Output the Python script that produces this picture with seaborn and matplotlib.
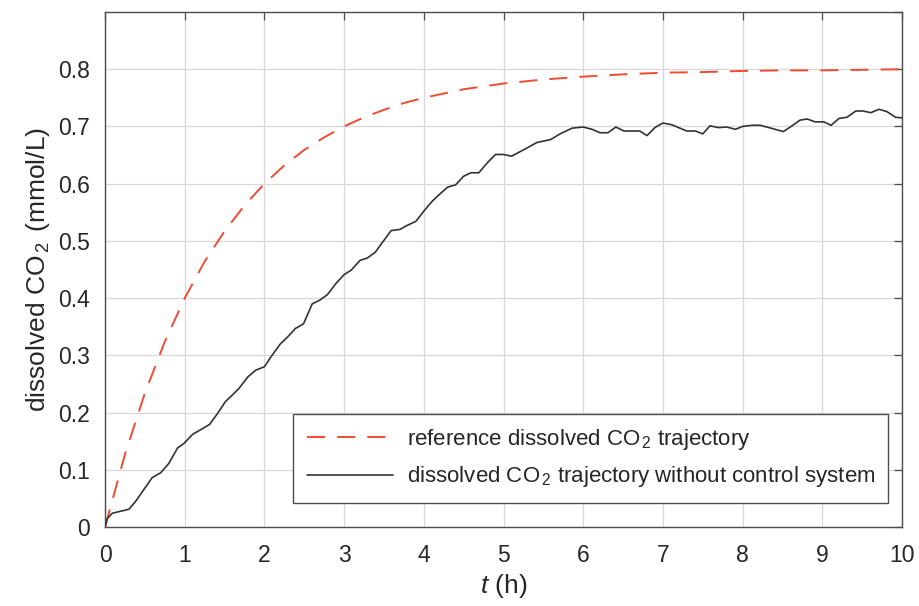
import matplotlib
matplotlib.use("Agg")
import matplotlib.pyplot as plt
import seaborn as sns
import pandas as pd

# reference trajectory
ref_t = [0, 0.25, 0.5, 0.75, 1, 1.25, 1.5, 1.75, 2, 2.25, 2.5, 2.75, 3, 3.25, 3.5, 3.75,
         4, 4.5, 5, 5.5, 6, 6.5, 7, 7.5, 8, 8.5, 9, 9.5, 10]
ref_v = [0, 0.127, 0.234, 0.324, 0.400, 0.464, 0.517, 0.562, 0.600, 0.632, 0.659, 0.681,
         0.700, 0.716, 0.729, 0.741, 0.750, 0.765, 0.775, 0.782, 0.787, 0.791, 0.794,
         0.795, 0.797, 0.798, 0.798, 0.799, 0.800]

# trajectory without control
raw_t = [0, 0.03, 0.09, 0.30, 0.38, 0.59, 0.70, 0.80, 0.91, 0.99, 1.10, 1.20, 1.31, 1.41,
         1.51, 1.60, 1.68, 1.79, 1.89, 2.00, 2.08, 2.20, 2.29, 2.39, 2.49, 2.60, 2.69,
         2.79, 2.90, 3.00, 3.09, 3.20, 3.29, 3.39, 3.50, 3.59, 3.70, 3.79, 3.90, 4.00,
         4.11, 4.21, 4.30, 4.40, 4.50, 4.59, 4.69, 4.80, 4.90, 5.00, 5.10, 5.25, 5.42,
         5.59, 5.71, 5.86, 6.00, 6.11, 6.21, 6.31, 6.41, 6.51, 6.71, 6.80, 6.90, 7.00,
         7.11, 7.30, 7.41, 7.50, 7.59, 7.70, 7.80, 7.91, 8.00, 8.12, 8.22, 8.33, 8.51,
         8.62, 8.72, 8.81, 8.91, 9.02, 9.11, 9.21, 9.31, 9.42, 9.51, 9.61, 9.71, 9.81,
         9.92, 10.0]
raw_v = [0, 0.015, 0.024, 0.031, 0.044, 0.086, 0.095, 0.111, 0.138, 0.146, 0.162, 0.170,
         0.179, 0.198, 0.219, 0.231, 0.242, 0.262, 0.274, 0.280, 0.297, 0.320, 0.332,
         0.347, 0.355, 0.390, 0.396, 0.406, 0.426, 0.441, 0.449, 0.466, 0.470, 0.480,
         0.501, 0.518, 0.520, 0.527, 0.534, 0.552, 0.570, 0.583, 0.594, 0.598, 0.613,
         0.619, 0.619, 0.637, 0.651, 0.651, 0.648, 0.659, 0.672, 0.677, 0.687, 0.697,
         0.699, 0.695, 0.689, 0.689, 0.699, 0.692, 0.692, 0.684, 0.698, 0.706, 0.703,
         0.692, 0.692, 0.687, 0.701, 0.698, 0.699, 0.695, 0.700, 0.702, 0.702, 0.698,
         0.691, 0.701, 0.711, 0.713, 0.708, 0.708, 0.702, 0.714, 0.716, 0.727, 0.727,
         0.724, 0.730, 0.726, 0.716, 0.715]

x_ticks = [0, 1, 2, 3, 4, 5, 6, 7, 8, 9, 10]
y_ticks = [0, 0.1, 0.2, 0.3, 0.4, 0.5, 0.6, 0.7, 0.8, 0.9]
y_ticklabels = ["0", "0.1", "0.2", "0.3", "0.4", "0.5", "0.6", "0.7", "0.8", ""]

sns.set_theme(style="white")
plt.rcParams["font.family"] = ["Liberation Sans", "DejaVu Sans"]
plt.rcParams["mathtext.fontset"] = "custom"
plt.rcParams["mathtext.rm"] = "Liberation Sans"
plt.rcParams["mathtext.it"] = "Liberation Sans:italic"
plt.rcParams["mathtext.default"] = "regular"

txt = "#262626"
fig = plt.figure(figsize=(9.19, 6.06), dpi=100)
ax = fig.add_axes([0.1143, 0.1304, 0.8672, 0.8498])

df_ref = pd.DataFrame({"t": ref_t, "v": ref_v})
df_raw = pd.DataFrame({"t": raw_t, "v": raw_v})

sns.lineplot(data=df_ref, x="t", y="v", ax=ax, color="#F04B32", lw=1.4,
             label="reference dissolved CO$_{\\,2}$ trajectory", zorder=3)
ax.lines[-1].set_dashes([9.3, 6.2])
sns.lineplot(data=df_raw, x="t", y="v", ax=ax, color="#333333", lw=1.2,
             label="dissolved CO$_{\\,2}$ trajectory without control system", zorder=3)

ax.set_xlim(0, 10)
ax.set_ylim(0, 0.9)
ax.set_xticks(x_ticks)
ax.set_yticks(y_ticks)
ax.set_yticklabels(y_ticklabels)
ax.grid(True, color="#DCD7D7", lw=0.9)
ax.set_axisbelow(True)
for s in ax.spines.values():
    s.set_color("#4d4d4d")
    s.set_linewidth(1.0)
ax.tick_params(direction="in", length=6, width=0.9, color="#4d4d4d",
               top=True, right=True, labelsize=16.5, labelcolor=txt)
ax.tick_params(axis="x", pad=12)
ax.tick_params(axis="y", pad=11)
ax.set_xlabel("$\\mathit{t}$ (h)", fontsize=19, color=txt, labelpad=4)
ax.set_ylabel("dissolved CO$_{\\,2\\,}$ (mmol/L)", fontsize=19, color=txt, labelpad=4)

leg = ax.legend(loc="lower right", bbox_to_anchor=(0.983, 0.047), fontsize=16,
                frameon=True, fancybox=False, edgecolor="#4d4d4d", framealpha=1,
                handlelength=3.9, borderpad=0.6, labelspacing=0.55, handletextpad=0.6,
                borderaxespad=0)
leg.get_frame().set_linewidth(1.0)
for t in leg.get_texts():
    t.set_color(txt)

fig.savefig("out.png", dpi=100)
